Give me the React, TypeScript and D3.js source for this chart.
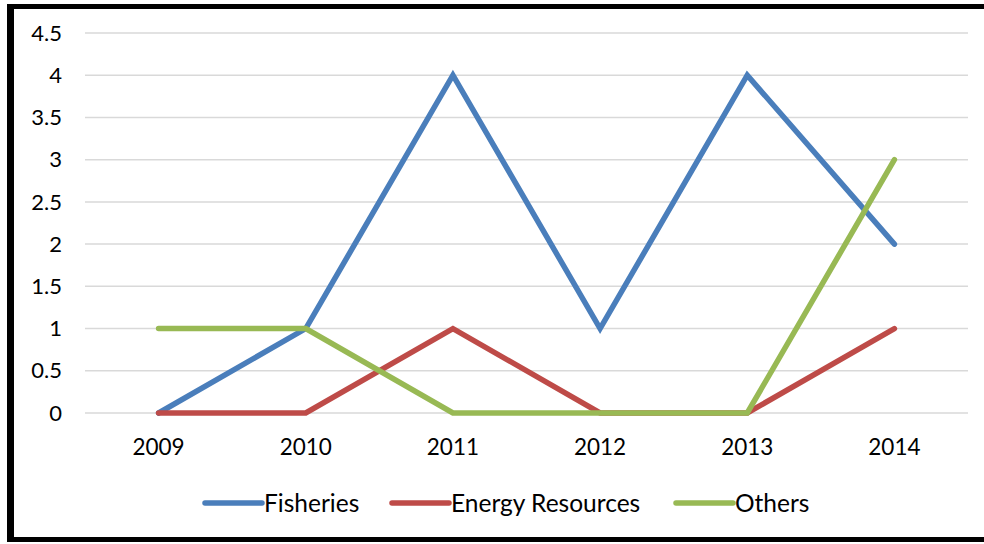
import { useRef, useEffect } from "react"
import * as d3 from "d3"

const years = ["2009", "2010", "2011", "2012", "2013", "2014"]
const fisheries = [0, 1, 4, 1, 4, 2]
const energyResources = [0, 0, 1, 0, 0, 1]
const others = [1, 1, 0, 0, 0, 3]
const yTicks = [0, 0.5, 1, 1.5, 2, 2.5, 3, 3.5, 4, 4.5]

const seriesList = [
  { name: "Fisheries", values: fisheries, color: "#4a7ebb" },
  { name: "Energy Resources", values: energyResources, color: "#be4b48" },
  { name: "Others", values: others, color: "#98b954" },
]

export default function App() {
  const svgRef = useRef<SVGSVGElement>(null)

  useEffect(() => {
    if (!svgRef.current) return
    const svg = d3.select(svgRef.current)
    svg.selectAll("*").remove()

    const width = 984
    const height = 544
    const margin = { top: 33, right: 16, bottom: 131, left: 85 }
    const font = "Lato, 'Open Sans', sans-serif"

    svg.append("rect").attr("width", width).attr("height", height).attr("fill", "white")

    // frame
    svg.append("line").attr("x1", 10.5).attr("x2", 10.5).attr("y1", 4).attr("y2", 542)
      .attr("stroke", "black").attr("stroke-width", 7)
    svg.append("line").attr("x1", 7).attr("x2", width).attr("y1", 6.5).attr("y2", 6.5)
      .attr("stroke", "black").attr("stroke-width", 5)
    svg.append("line").attr("x1", 7).attr("x2", width).attr("y1", 539.5).attr("y2", 539.5)
      .attr("stroke", "black").attr("stroke-width", 5)

    const x = d3.scalePoint<string>()
      .domain(years)
      .range([margin.left, width - margin.right])
      .padding(0.5)

    const y = d3.scaleLinear()
      .domain([0, 4.5])
      .range([height - margin.bottom, margin.top])

    // gridlines
    svg.append("g")
      .selectAll("line")
      .data(yTicks)
      .join("line")
      .attr("x1", margin.left)
      .attr("x2", width - margin.right)
      .attr("y1", (d) => y(d))
      .attr("y2", (d) => y(d))
      .attr("stroke", "#d9d9d9")
      .attr("stroke-width", 1.5)

    // y labels
    svg.append("g")
      .selectAll("text")
      .data(yTicks)
      .join("text")
      .attr("x", 62)
      .attr("y", (d) => y(d))
      .attr("dy", "0.35em")
      .attr("text-anchor", "end")
      .attr("font-family", font)
      .attr("font-size", 22)
      .attr("fill", "#000")
      .text((d) => String(d))

    // x labels
    svg.append("g")
      .selectAll("text")
      .data(years)
      .join("text")
      .attr("x", (d) => x(d)!)
      .attr("y", 447)
      .attr("dy", "0.35em")
      .attr("text-anchor", "middle")
      .attr("font-family", font)
      .attr("font-size", 22.5)
      .attr("fill", "#000")
      .text((d) => d)

    const line = d3.line<number>()
      .x((_, i) => x(years[i])!)
      .y((d) => y(d))

    seriesList.forEach((s) => {
      svg.append("path")
        .attr("d", line(s.values))
        .attr("fill", "none")
        .attr("stroke", s.color)
        .attr("stroke-width", 5.5)
        .attr("stroke-linejoin", "miter")
        .attr("stroke-linecap", "round")
    })

    // legend
    const legendX = [205, 392, 676]
    seriesList.forEach((s, i) => {
      const g = svg.append("g").attr("transform", `translate(${legendX[i]}, 503)`)
      g.append("line").attr("x1", 0).attr("x2", 57).attr("y1", 0).attr("y2", 0)
        .attr("stroke", s.color).attr("stroke-width", 5.5).attr("stroke-linecap", "round")
      g.append("text")
        .attr("x", 59)
        .attr("y", 0)
        .attr("dy", "0.35em")
        .attr("font-family", font)
        .attr("font-size", 24.5)
        .attr("fill", "#000")
        .text(s.name)
    })
  }, [])

  return (
    <svg
      ref={svgRef}
      width={984}
      height={544}
      style={{ position: "absolute", left: 0, top: 0, display: "block" }}
    />
  )
}
